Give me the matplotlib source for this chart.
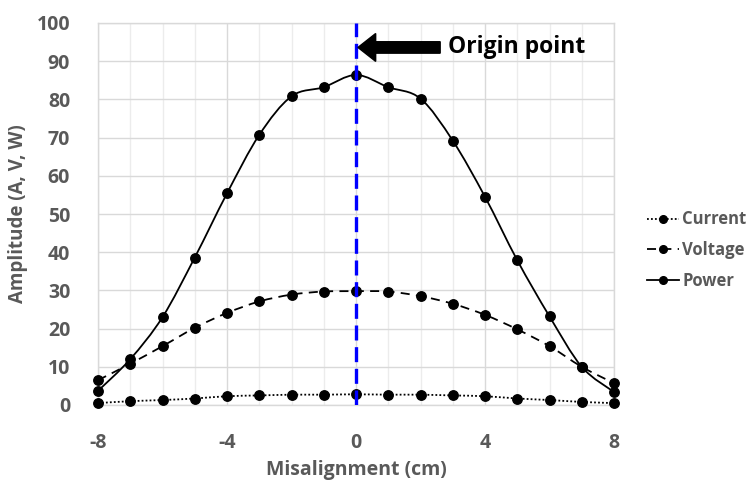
import numpy as np
import matplotlib
matplotlib.use("Agg")
import matplotlib.pyplot as plt
from matplotlib.path import Path
from matplotlib.patches import PathPatch, FancyArrow
from matplotlib.lines import Line2D

plt.rcParams['font.family'] = ['Open Sans', 'DejaVu Sans']

# Misalignment positions (cm) and measured amplitudes
misalignment = [-8, -7, -6, -5, -4, -3, -2, -1, 0, 1, 2, 3, 4, 5, 6, 7, 8]
current = [0.5, 1.0, 1.3, 1.7, 2.3, 2.5, 2.7, 2.7, 2.8, 2.7, 2.7, 2.5, 2.3, 1.7, 1.3, 0.8, 0.5]
voltage = [6.5, 10.8, 15.4, 20.2, 24.1, 27.1, 28.9, 29.7, 29.8, 29.7, 28.5, 26.5, 23.6, 19.8, 15.4, 10.0, 5.7]
power = [3.7, 12.0, 23.0, 38.6, 55.4, 70.7, 80.8, 83.2, 86.4, 83.2, 80.2, 69.2, 54.5, 37.9, 23.2, 10.0, 3.4]

series_names = ["Current", "Voltage", "Power"]
x_ticks = [-8, -4, 0, 4, 8]
x_tick_labels = ["-8", "-4", "0", "4", "8"]
y_ticks = list(range(0, 101, 10))

TEXT = "#595959"


def smooth_path(xs, ys):
    """Cubic Bezier path through the points (Catmull-Rom style smoothing)."""
    p = np.column_stack([xs, ys]).astype(float)
    n = len(p)
    verts = [p[0]]
    codes = [Path.MOVETO]
    for i in range(n - 1):
        p0 = p[i - 1] if i > 0 else p[i]
        p1 = p[i]
        p2 = p[i + 1]
        p3 = p[i + 2] if i + 2 < n else p[i + 1]
        c1 = p1 + (p2 - p0) / 6.0
        c2 = p2 - (p3 - p1) / 6.0
        verts += [c1, c2, p2]
        codes += [Path.CURVE4] * 3
    return Path(verts, codes)


fig = plt.figure(figsize=(7.48, 4.83), dpi=100)
ax = fig.add_axes([98 / 748, 1 - 405 / 483, (614 - 98) / 748, (405 - 23) / 483])

ax.set_xlim(-8, 8)
ax.set_ylim(0, 100)

# grid
for xv in range(-8, 9):
    ax.axvline(xv, color="#d9d9d9" if xv % 4 == 0 else "#ececec", lw=1.0, zorder=0)
for yv in y_ticks:
    ax.axhline(yv, color="#d9d9d9", lw=1.0, zorder=0)

for s in ax.spines.values():
    s.set_color("#d9d9d9")
    s.set_linewidth(1.0)

styles = {
    "Current": (0, (1, 1.2)),
    "Voltage": (0, (5, 3.5)),
    "Power": "solid",
}
data = {"Current": current, "Voltage": voltage, "Power": power}

for name in series_names:
    ys = data[name]
    patch = PathPatch(smooth_path(misalignment, ys), fill=False, edgecolor="black",
                      lw=1.3, linestyle=styles[name], zorder=3, clip_on=False)
    ax.add_patch(patch)
    ax.plot(misalignment, ys, linestyle="none", marker="o", ms=6.8, color="black",
            zorder=4, clip_on=False)

# origin marker line
ax.axvline(0, color="#0000ff", lw=2.4, linestyle=(0, (4.5, 2)), zorder=5)

# block arrow pointing at origin
ax.add_patch(FancyArrow(2.61, 93.6, -2.55, 0, width=3.0, head_width=7.3, head_length=0.55,
                        length_includes_head=True, color="black", zorder=6))
ax.text(2.85, 93.6, "Origin point", fontsize=16.5, fontweight="bold", color="black",
        ha="left", va="center", zorder=6)

ax.set_xticks(x_ticks)
ax.set_xticklabels(x_tick_labels)
ax.set_yticks(y_ticks)
ax.tick_params(axis="both", length=0, labelsize=14, labelcolor=TEXT)
ax.tick_params(axis="x", pad=20)
ax.tick_params(axis="y", pad=20)
for lab in ax.get_xticklabels() + ax.get_yticklabels():
    lab.set_fontweight("bold")

ax.set_xlabel("Misalignment (cm)", fontsize=14, fontweight="bold", color=TEXT, labelpad=5)
ax.set_ylabel("Amplitude (A, V, W)", fontsize=13.5, fontweight="bold", color=TEXT, labelpad=6)

handles = [Line2D([], [], color="black", lw=1.3, linestyle=styles[n], marker="o", ms=5.5)
           for n in series_names]
leg = fig.legend(handles, series_names, loc="center left", bbox_to_anchor=(632 / 748, 1 - 250 / 483),
                 frameon=False, handlelength=1.9, handletextpad=0.2, labelspacing=0.75,
                 prop={"size": 12, "weight": "bold"})
for t in leg.get_texts():
    t.set_color(TEXT)

fig.savefig("out.png", dpi=100)
